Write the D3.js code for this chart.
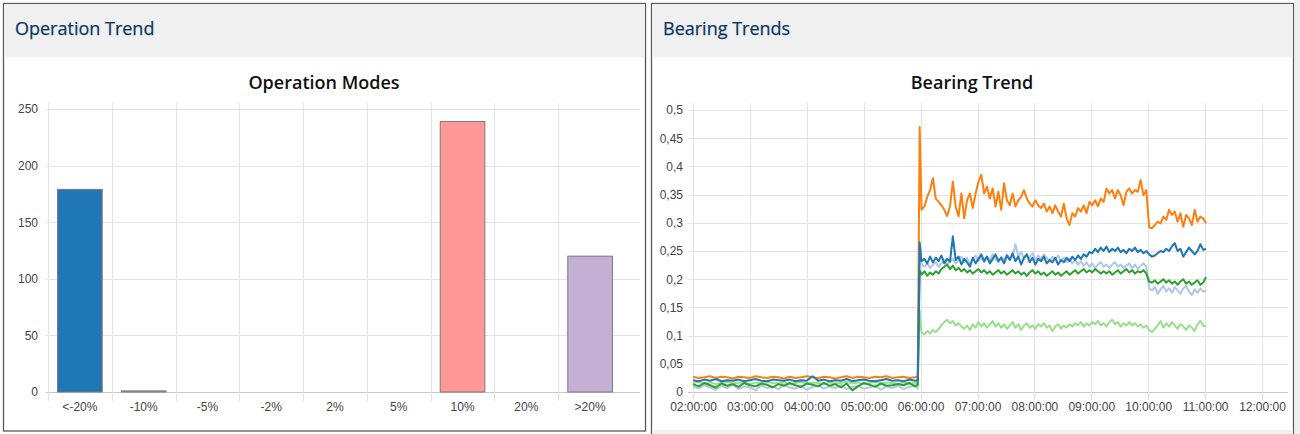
<!DOCTYPE html>
<html><head><meta charset="utf-8">
<script src="https://cdn.jsdelivr.net/npm/d3@7"></script>
<style>
body{margin:0;background:#fff;}
svg{display:block;}
.tick text{font-family:"Liberation Sans",Arial,sans-serif;font-size:12px;fill:#444;}
</style>
</head><body>
<svg id="c" width="1300" height="434"></svg>
<script>
// ---------- Operation Modes (bar chart) ----------
const barCategories = ["<-20%","-10%","-5%","-2%","2%","5%","10%","20%",">20%"];
const barValues = [179, 1, 0, 0, 0, 0, 239, 0, 120];
const barColors = ["#1f77b4","#aec7e8","#ff7f0e","#ffbb78","#2ca02c","#98df8a","#ff9896","#9467bd","#c5b0d5"];
const barYTicks = [0, 50, 100, 150, 200, 250];

// ---------- Bearing Trend (line chart) ----------
// sample times, minutes after midnight: 02:00..05:54 every 6 min, 05:57, 05:59, 06:01..11:01 every 3 min
const sampleMinutes = [...d3.range(120, 355, 6), 357, 359, ...d3.range(361, 662, 3)];
const bearingYTicks = [0,0.05,0.1,0.15,0.2,0.25,0.3,0.35,0.4,0.45,0.5];
const hourTicks = [2,3,4,5,6,7,8,9,10,11,12];

const orangePre = [0.027,0.025,0.026,0.028,0.025,0.027,0.026,0.024,0.027,0.026,0.025,0.028,0.026,0.025,0.027,0.026,0.024,0.027,0.025,0.026,0.028,0.026,0.025,0.027,0.026,0.024,0.026,0.028,0.025,0.027,0.026,0.025,0.027,0.026,0.028,0.025,0.026,0.027,0.025,0.026,0.027];
const orangePost = [0.323,0.329,0.346,0.358,0.379,0.343,0.337,0.331,0.323,0.312,
0.329,0.373,0.329,0.311,0.352,0.308,0.340,0.352,0.326,0.352,
0.373,0.385,0.352,0.364,0.343,0.361,0.329,0.355,0.323,0.370,
0.340,0.331,0.352,0.329,0.340,0.346,0.358,0.343,0.334,0.329,
0.340,0.331,0.326,0.334,0.320,0.329,0.317,0.331,0.320,0.311,
0.334,0.308,0.296,0.317,0.311,0.326,0.320,0.331,0.317,0.337,
0.331,0.340,0.329,0.343,0.337,0.361,0.352,0.358,0.343,0.358,
0.349,0.331,0.355,0.361,0.352,0.358,0.355,0.376,0.349,0.358,
0.292,0.290,0.296,0.302,0.299,0.311,0.305,0.323,0.314,0.320,
0.302,0.317,0.293,0.314,0.308,0.296,0.323,0.302,0.311,0.308,
0.299];

const bluePre = [0.021,0.019,0.022,0.020,0.023,0.019,0.021,0.020,0.022,0.019,0.021,0.023,0.020,0.019,0.022,0.021,0.020,0.022,0.019,0.021,0.020,0.028,0.020,0.022,0.019,0.021,0.020,0.023,0.019,0.021,0.022,0.020,0.019,0.021,0.023,0.020,0.021,0.019,0.022,0.020,0.021];
const bluePost = [0.232,0.236,0.228,0.240,0.230,0.238,0.232,0.242,0.228,0.236,
0.231,0.276,0.234,0.240,0.226,0.236,0.230,0.222,0.238,0.228,
0.236,0.244,0.232,0.240,0.228,0.236,0.244,0.232,0.238,0.228,
0.242,0.234,0.246,0.232,0.240,0.226,0.238,0.244,0.230,0.238,
0.226,0.236,0.232,0.240,0.228,0.234,0.230,0.238,0.226,0.234,
0.230,0.238,0.232,0.240,0.234,0.242,0.236,0.244,0.240,0.248,
0.246,0.254,0.248,0.256,0.250,0.258,0.248,0.254,0.250,0.256,
0.248,0.252,0.246,0.254,0.250,0.256,0.248,0.252,0.246,0.250,
0.244,0.240,0.242,0.246,0.250,0.248,0.254,0.250,0.258,0.264,
0.250,0.254,0.240,0.248,0.256,0.250,0.244,0.250,0.262,0.252,
0.254];

const lightBluePre = [0.010,0.006,0.012,0.008,0.004,0.011,0.007,0.013,0.005,0.010,0.008,0.003,0.012,0.007,0.010,0.005,0.013,0.008,0.006,0.011,0.004,0.009,0.012,0.006,0.010,0.007,0.013,0.005,0.009,0.011,0.006,0.008,0.012,0.004,0.010,0.007,0.011,0.005,0.009,0.012,0.006];
const lightBluePost = [0.226,0.222,0.228,0.220,0.226,0.230,0.222,0.228,0.234,0.226,
0.232,0.236,0.228,0.234,0.240,0.230,0.238,0.226,0.234,0.242,
0.232,0.238,0.230,0.240,0.234,0.244,0.236,0.230,0.240,0.234,
0.244,0.236,0.240,0.262,0.240,0.248,0.236,0.244,0.238,0.246,
0.234,0.242,0.236,0.244,0.238,0.232,0.240,0.234,0.242,0.232,
0.238,0.230,0.236,0.228,0.234,0.226,0.232,0.224,0.230,0.222,
0.228,0.220,0.226,0.230,0.222,0.226,0.220,0.226,0.230,0.222,
0.226,0.220,0.224,0.228,0.220,0.226,0.218,0.224,0.228,0.222,
0.184,0.180,0.186,0.174,0.182,0.188,0.178,0.184,0.176,0.186,
0.180,0.174,0.184,0.188,0.178,0.172,0.182,0.176,0.184,0.178,
0.180];

const greenPre = [0.014,0.010,0.016,0.012,0.008,0.015,0.011,0.014,0.009,0.016,0.012,0.010,0.015,0.013,0.008,0.014,0.011,0.016,0.012,0.009,0.015,0.013,0.010,0.016,0.011,0.014,0.008,0.015,0.003,0.010,0.016,0.013,0.009,0.015,0.011,0.012,0.014,0.012,0.016,0.010,0.013];
const greenPost = [0.208,0.214,0.206,0.212,0.208,0.214,0.210,0.218,0.222,0.226,
0.218,0.224,0.216,0.220,0.214,0.218,0.212,0.216,0.210,0.214,
0.218,0.212,0.216,0.210,0.214,0.208,0.212,0.216,0.210,0.214,
0.208,0.212,0.216,0.210,0.214,0.208,0.212,0.206,0.212,0.216,
0.210,0.214,0.208,0.212,0.206,0.210,0.214,0.208,0.212,0.206,
0.210,0.214,0.208,0.212,0.216,0.210,0.214,0.218,0.212,0.216,
0.212,0.218,0.214,0.210,0.214,0.210,0.214,0.208,0.212,0.216,
0.210,0.214,0.218,0.212,0.216,0.210,0.214,0.212,0.216,0.210,
0.196,0.194,0.198,0.192,0.196,0.200,0.194,0.198,0.192,0.196,
0.190,0.196,0.200,0.192,0.196,0.190,0.194,0.198,0.190,0.194,
0.204];

const lightGreenPre = [0.016,0.018,0.015,0.017,0.014,0.016,0.018,0.015,0.017,0.016,0.014,0.017,0.015,0.018,0.016,0.015,0.017,0.014,0.016,0.018,0.015,0.017,0.016,0.014,0.017,0.015,0.016,0.018,0.015,0.017,0.014,0.016,0.018,0.015,0.017,0.016,0.014,0.017,0.015,0.016,0.017];
const lightGreenPost = [0.106,0.102,0.108,0.104,0.110,0.106,0.112,0.118,0.124,0.128,
0.122,0.126,0.118,0.122,0.116,0.112,0.118,0.110,0.120,0.114,
0.124,0.116,0.122,0.114,0.120,0.126,0.116,0.122,0.114,0.120,
0.112,0.118,0.124,0.114,0.120,0.110,0.118,0.122,0.114,0.118,
0.112,0.120,0.116,0.122,0.114,0.118,0.108,0.116,0.120,0.112,
0.118,0.114,0.120,0.116,0.122,0.118,0.124,0.116,0.122,0.118,
0.124,0.120,0.126,0.118,0.122,0.116,0.124,0.128,0.120,0.124,
0.116,0.122,0.118,0.124,0.118,0.122,0.116,0.120,0.114,0.118,
0.110,0.106,0.112,0.118,0.126,0.114,0.122,0.116,0.124,0.118,
0.112,0.120,0.116,0.110,0.118,0.114,0.108,0.120,0.126,0.118,
0.116];

const bearingNames = ["Light blue","Light green","Green","Orange","Blue"];
const bearingColors = ["#aec7e8","#98df8a","#2ca02c","#ff7f0e","#1f77b4"];
const bearingValues = [
  [...lightBluePre, 0.235, ...lightBluePost],
  [...lightGreenPre, 0.145, ...lightGreenPost],
  [...greenPre, 0.215, ...greenPost],
  [...orangePre, 0.470, ...orangePost],
  [...bluePre, 0.265, ...bluePost]
];

// ---------- drawing ----------
const svg = d3.select("#c");
const FONT = "'Open Sans','Noto Sans',sans-serif";

svg.append("rect").attr("x",1295).attr("y",0).attr("width",5).attr("height",434).attr("fill","#f0f0f0");

function panel(x, w, h, title, footer){
  const g = svg.append("g");
  g.append("rect").attr("x",x).attr("y",3.5).attr("width",w).attr("height",h)
    .attr("fill","#fff").attr("stroke","#595959").attr("stroke-width",1.3);
  g.append("rect").attr("x",x+0.7).attr("y",4.2).attr("width",w-1.4).attr("height",53)
    .attr("fill","#f0f0f0");
  if(footer){
    g.append("rect").attr("x",x+0.7).attr("y",430).attr("width",w-1.4).attr("height",10).attr("fill","#f0f0f0");
  }
  g.append("text").attr("x",x+11.5).attr("y",34.5).text(title)
    .attr("font-family",FONT).attr("font-size",18).attr("fill","#0c3763")
    .attr("stroke","#0c3763").attr("stroke-width",0.25);
}
panel(3.5, 642, 427.5, "Operation Trend", false);
panel(651.5, 642, 440, "Bearing Trends", true);

svg.append("text").attr("x",324).attr("y",88.5).attr("text-anchor","middle").text("Operation Modes")
  .attr("font-family",FONT).attr("font-size",18).attr("font-weight",600).attr("fill","#111");
svg.append("text").attr("x",972).attr("y",88.5).attr("text-anchor","middle").text("Bearing Trend")
  .attr("font-family",FONT).attr("font-size",18).attr("font-weight",600).attr("fill","#111");

const GRID = "#e3e3e3";

// ===== Left bar chart =====
const yL = d3.scaleLinear().domain([0,250]).range([392,109]);
const xL = d3.scaleBand().domain(barCategories).range([48,622]).paddingInner(0.3).paddingOuter(0.15);
const gL = svg.append("g");
gL.selectAll("line.h").data(barYTicks).join("line")
  .attr("x1",46).attr("x2",640).attr("y1",d=>Math.round(yL(d))+0.5).attr("y2",d=>Math.round(yL(d))+0.5)
  .attr("stroke",d=>d===0?"#c8c8c8":GRID);
const stepL = xL.step();
gL.selectAll("line.v").data(barCategories).join("line")
  .attr("x1",d=>Math.round(xL(d) - stepL*0.15)+0.5).attr("x2",d=>Math.round(xL(d) - stepL*0.15)+0.5)
  .attr("y1",103).attr("y2",401).attr("stroke",GRID);
gL.selectAll("rect.bar").data(barValues).join("rect")
  .attr("x",(d,i)=>xL(barCategories[i])).attr("width",xL.bandwidth())
  .attr("y",d=>yL(d)).attr("height",d=>yL(0)-yL(d))
  .attr("fill",(d,i)=>barColors[i]).attr("stroke","#7a7a7a").attr("stroke-width",1);
const axL = gL.append("g").attr("transform","translate(41,0)")
  .call(d3.axisLeft(yL).tickValues(barYTicks).tickSize(0).tickPadding(3));
axL.select(".domain").remove();
const axLB = gL.append("g").attr("transform","translate(0,392)")
  .call(d3.axisBottom(xL).tickSize(0).tickPadding(10));
axLB.select(".domain").remove();

// ===== Right line chart =====
const day = (m)=> new Date(2020,0,1,Math.floor(m/60),m%60);
const yR = d3.scaleLinear().domain([0,0.5]).range([392,110]);
const xR = d3.scaleTime().domain([day(120), day(720)]).range([693,1262]);
const gR = svg.append("g");
gR.selectAll("line.h").data(bearingYTicks).join("line")
  .attr("x1",688).attr("x2",1288).attr("y1",d=>Math.round(yR(d))+0.5).attr("y2",d=>Math.round(yR(d))+0.5)
  .attr("stroke",d=>d===0?"#c8c8c8":GRID);
gR.selectAll("line.v").data(hourTicks).join("line")
  .attr("x1",d=>Math.round(xR(day(d*60)))+0.5).attr("x2",d=>Math.round(xR(day(d*60)))+0.5)
  .attr("y1",103).attr("y2",400).attr("stroke",GRID);

const locale = d3.formatLocale({decimal:",", thousands:".", grouping:[3], currency:["","€"]});
const fmt = locale.format(".2~f");
const axR = gR.append("g").attr("transform","translate(686,0)")
  .call(d3.axisLeft(yR).tickValues(bearingYTicks).tickFormat(fmt).tickSize(0).tickPadding(3));
axR.select(".domain").remove();
const axRB = gR.append("g").attr("transform","translate(0,392)")
  .call(d3.axisBottom(xR).tickValues(hourTicks.map(h=>day(h*60))).tickFormat(d3.timeFormat("%H:%M:%S")).tickSize(0).tickPadding(10));
axRB.select(".domain").remove();

const line = d3.line().x((d,i)=>xR(day(sampleMinutes[i]))).y(d=>yR(d));
gR.selectAll("path.series").data(bearingValues).join("path")
  .attr("d",d=>line(d)).attr("fill","none")
  .attr("stroke",(d,i)=>bearingColors[i]).attr("stroke-width",2)
  .attr("stroke-linejoin","round");
</script>
</body></html>
